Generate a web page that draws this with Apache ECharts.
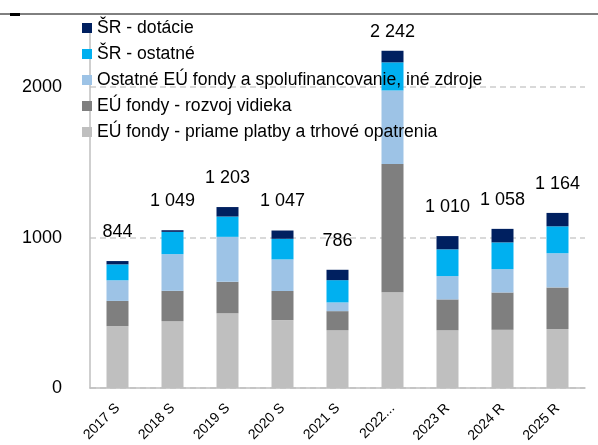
<!DOCTYPE html>
<html>
<head>
<meta charset="utf-8">
<script src="https://cdn.jsdelivr.net/npm/echarts@6/dist/echarts.min.js"></script>
<style>
  html, body { margin: 0; padding: 0; background: #fff; }
  #chart { width: 598px; height: 445px; }
</style>
</head>
<body>
<div id="chart"></div>
<script>
const categories = ["2017 S", "2018 S", "2019 S", "2020 S", "2021 S", "2022...", "2023 R", "2024 R", "2025 R"];
const priamePlatby = [411, 445, 496, 451, 385, 636, 383, 387, 392];
const rozvojVidieka = [168, 201, 210, 194, 126, 854, 206, 248, 277];
const ostatneEu = [137, 244, 299, 210, 58, 488, 155, 155, 227];
const srOstatne = [106, 148, 135, 137, 148, 187, 178, 178, 179];
const srDotacie = [22, 11, 63, 55, 69, 77, 88, 90, 89];
const totals = [844, 1049, 1203, 1047, 786, 2242, 1010, 1058, 1164];
const yTicks = [0, 1000, 2000];

const names = [
  "ŠR - dotácie",
  "ŠR - ostatné",
  "Ostatné EÚ fondy a spolufinancovanie, iné zdroje",
  "EÚ fondy - rozvoj vidieka",
  "EÚ fondy - priame platby a trhové opatrenia"
];
const colors = ["#002060", "#00B0F0", "#9DC3E6", "#7F7F7F", "#BFBFBF"];
const font = "'Liberation Sans', Arial, sans-serif";

function fmt(v) {
  return String(v).replace(/\B(?=(\d{3})+(?!\d))/g, " ");
}

// bottom to top stack order
const stackData = [priamePlatby, rozvojVidieka, ostatneEu, srOstatne, srDotacie];
const stackNames = [names[4], names[3], names[2], names[1], names[0]];
const stackColors = [colors[4], colors[3], colors[2], colors[1], colors[0]];

const series = stackData.map((d, i) => {
  const s = {
    name: stackNames[i],
    type: "bar",
    stack: "total",
    barWidth: 22,
    itemStyle: { color: stackColors[i] },
    data: d
  };
  if (i === stackData.length - 1) {
    s.label = {
      show: true,
      position: "top",
      distance: 20,
      color: "#000",
      fontSize: 18,
      lineHeight: 18,
      fontFamily: font,
      formatter: p => fmt(totals[p.dataIndex])
    };
    // the tallest bar's label sits closer to the bar (it would hit the top otherwise)
    s.data = d.map((v, k) => (totals[k] > 2000 ? { value: v, label: { distance: 10 } } : v));
  }
  return s;
});

const chart = echarts.init(document.getElementById("chart"));
chart.setOption({
  animation: false,
  color: colors,
  grid: { left: 90, right: 13, top: 27, bottom: 56, containLabel: false },
  legend: {
    orient: "vertical",
    left: 82,
    top: 18,
    padding: 0,
    itemWidth: 10,
    itemHeight: 10,
    itemGap: 6,
    icon: "rect",
    data: names,
    textStyle: { color: "#000", fontSize: 17.6, lineHeight: 20, fontFamily: font }
  },
  xAxis: {
    type: "category",
    data: categories,
    axisLine: { lineStyle: { color: "#BFBFBF", width: 1.5 } },
    axisTick: { show: false },
    axisLabel: {
      rotate: 45,
      interval: 0,
      margin: 18,
      color: "#000",
      fontSize: 14,
      fontFamily: font
    }
  },
  yAxis: {
    type: "value",
    min: 0,
    max: 2400,
    interval: 1000,
    axisLine: { show: true, lineStyle: { color: "#BFBFBF", width: 1.5 } },
    axisTick: { show: false },
    axisLabel: {
      margin: 28,
      color: "#000",
      fontSize: 18,
      fontFamily: font,
      showMaxLabel: false,
      formatter: v => (yTicks.indexOf(v) >= 0 ? String(v) : "")
    },
    splitLine: {
      show: true,
      showMaxLine: false,
      lineStyle: { color: "#D9D9D9", width: 2, type: [6, 4] }
    }
  },
  graphic: [
    { type: "line", shape: { x1: 0, y1: 14, x2: 598, y2: 14 }, style: { stroke: "#000", lineWidth: 1 } },
    { type: "rect", shape: { x: 10, y: 13, width: 10, height: 3 }, style: { fill: "#000" } }
  ],
  series: series
});
</script>
</body>
</html>
